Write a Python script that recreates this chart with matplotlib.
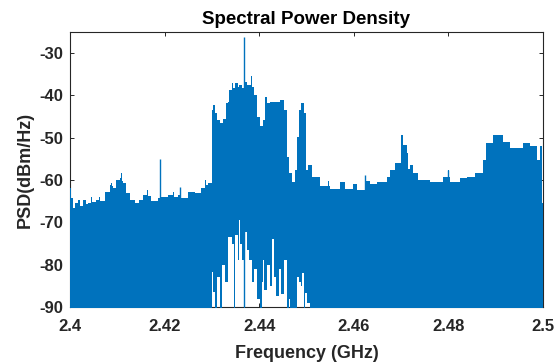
import matplotlib
matplotlib.use("Agg")
import matplotlib.pyplot as plt

# upper / lower edge of the PSD trace (step data, value holds until next freq)
freq_ghz = [
    2.40000, 2.40021, 2.40063, 2.40106, 2.40169, 2.40211, 2.40275, 2.40338, 2.40381, 2.40444,
    2.40465, 2.40550, 2.40613, 2.40634, 2.40740, 2.40846, 2.40867, 2.40888, 2.40909, 2.40973,
    2.41057, 2.41078, 2.41099, 2.41121, 2.41184, 2.41268, 2.41374, 2.41459, 2.41543, 2.41628,
    2.41649, 2.41712, 2.41860, 2.41924, 2.42072, 2.42178, 2.42199, 2.42283, 2.42347, 2.42495,
    2.42643, 2.42770, 2.42854, 2.42875, 2.42918,
    2.43002, 2.43023, 2.43066, 2.43108, 2.43171, 2.43214, 2.43235, 2.43277, 2.43298, 2.43340,
    2.43362, 2.43425, 2.43446, 2.43467, 2.43488, 2.43552, 2.43573, 2.43594, 2.43636, 2.43679,
    2.43700, 2.43721, 2.43742, 2.43784, 2.43827, 2.43848, 2.43890, 2.43932, 2.43953, 2.43996,
    2.44017, 2.44038, 2.44059, 2.44080, 2.44101, 2.44123, 2.44165, 2.44228, 2.44271, 2.44313,
    2.44334, 2.44355, 2.44419, 2.44440, 2.44461, 2.44482, 2.44524, 2.44588, 2.44630, 2.44651,
    2.44693, 2.44757, 2.44799, 2.44841, 2.44884, 2.44905, 2.44947, 2.44968, 2.44989, 2.45011,
    2.45032, 2.45074,
    2.45116, 2.45285, 2.45455, 2.45476, 2.45497, 2.45708, 2.45814, 2.45983, 2.46068, 2.46237,
    2.46342, 2.46490, 2.46702, 2.46765, 2.46871, 2.46998, 2.47040, 2.47125, 2.47146, 2.47188,
    2.47251, 2.47357, 2.47611, 2.47886, 2.47992, 2.48013, 2.48034, 2.48245, 2.48393, 2.48562,
    2.48731, 2.48795, 2.48943, 2.49154, 2.49302, 2.49577, 2.49725, 2.49873, 2.49937, 2.49979,
    2.50000,
]
psd_max = [
    -61.9, -64.3, -66.6, -65.3, -64.6, -66.2, -64.7, -65.6, -65.3, -63.9,
    -65.2, -64.8, -64.1, -65.0, -62.7, -61.2, -60.7, -61.5, -61.9, -60.0,
    -59.4, -58.4, -60.2, -60.8, -63.1, -64.7, -65.3, -64.6, -63.5, -62.3,
    -63.8, -65.0, -64.2, -64.0, -63.5, -62.8, -63.9, -63.5, -64.3, -62.7,
    -63.1, -61.9, -60.0, -61.2, -60.8,
    -43.4, -42.2, -44.2, -45.8, -46.6, -46.6, -45.5, -45.5, -41.8, -41.5,
    -38.7, -37.1, -38.3, -38.3, -37.1, -37.9, -37.5, -37.5, -38.3, -38.3,
    -36.7, -36.7, -37.5, -37.5, -35.4, -37.9, -39.9, -39.9, -45.0, -45.0,
    -47.2, -47.2, -47.2, -45.8, -45.8, -40.3, -41.8, -41.5, -41.5, -41.5,
    -41.5, -41.5, -41.5, -41.1, -41.1, -41.1, -43.4, -54.5, -58.4, -58.4,
    -60.4, -57.6, -49.7, -43.4, -41.8, -41.8, -44.2, -44.2, -57.6, -57.6,
    -56.4, -56.4,
    -59.2, -61.5, -60.1, -61.5, -62.0, -60.4, -62.0, -61.0, -62.3, -60.1,
    -61.0, -60.4, -59.2, -57.6, -56.0, -49.3, -51.7, -53.7, -57.4, -56.4,
    -58.3, -60.0, -60.4, -59.2, -57.6, -59.2, -60.4, -59.6, -59.2, -58.3,
    -55.2, -51.3, -49.3, -50.9, -52.5, -51.3, -52.0, -55.2, -52.0, -65.5,
    -65.5,
]
psd_min = [-100] * 45 + [
    -81.7, -86.5, -100, -83.0, -100, -80.0, -80.0, -84.0, -84.0, -73.5,
    -73.5, -75.0, -75.0, -100, -73.0, -79.0, -69.5, -75.0, -79.0, -100,
    -72.2, -72.2, -76.5, -79.0, -79.0, -84.0, -81.0, -81.0, -88.0, -88.0,
    -100, -100, -84.0, -79.0, -86.0, -86.0, -80.0, -85.0, -74.0, -83.0,
    -83.0, -87.5, -81.0, -81.0, -87.0, -87.0, -79.0, -100, -88.0, -100,
    -100, -100, -83.0, -84.0, -85.0, -82.0, -100, -86.7, -86.7, -89.0,
    -89.0, -100,
] + [-100] * 41

# narrow single-bin spikes
spike_freq = [2.41903, 2.42326, 2.43679, 2.46237, 2.47992]
spike_top = [-55.0, -61.6, -26.2, -58.8, -57.6]

blue = "#0072BD"
dark = "#262626"

plt.rcParams["font.family"] = ["Liberation Sans", "DejaVu Sans"]
plt.rcParams["font.weight"] = "bold"
plt.rcParams["axes.unicode_minus"] = False

fig = plt.figure(figsize=(5.58, 3.64), dpi=100)
ax = fig.add_axes([0.1254, 0.1566, 0.8476, 0.7554])

ax.fill_between(freq_ghz, psd_min, psd_max, step="post", color=blue,
                linewidth=0, zorder=3)
ax.vlines(spike_freq, -100, spike_top, color=blue, linewidth=1.0, zorder=3)

ax.set_xlim(2.4, 2.5)
ax.set_ylim(-90, -25)
ax.set_xticks([2.4, 2.42, 2.44, 2.46, 2.48, 2.5])
ax.set_xticklabels(["2.4", "2.42", "2.44", "2.46", "2.48", "2.5"])
ax.set_yticks([-90, -80, -70, -60, -50, -40, -30])

ax.tick_params(direction="in", length=3, width=0.7, colors=dark, labelsize=12,
               top=True, right=True)
ax.tick_params(axis="x", pad=9)
ax.tick_params(axis="y", pad=5)
for s in ax.spines.values():
    s.set_color(dark)
    s.set_linewidth(0.8)

ax.set_title("Spectral Power Density", fontsize=13.5, fontweight="bold", pad=6)
ax.set_xlabel("Frequency (GHz)", fontsize=13, fontweight="bold", color=dark, labelpad=7.5)
ax.set_ylabel("PSD(dBm/Hz)", fontsize=13, fontweight="bold", color=dark, labelpad=4)

fig.savefig("out.png", dpi=100)
